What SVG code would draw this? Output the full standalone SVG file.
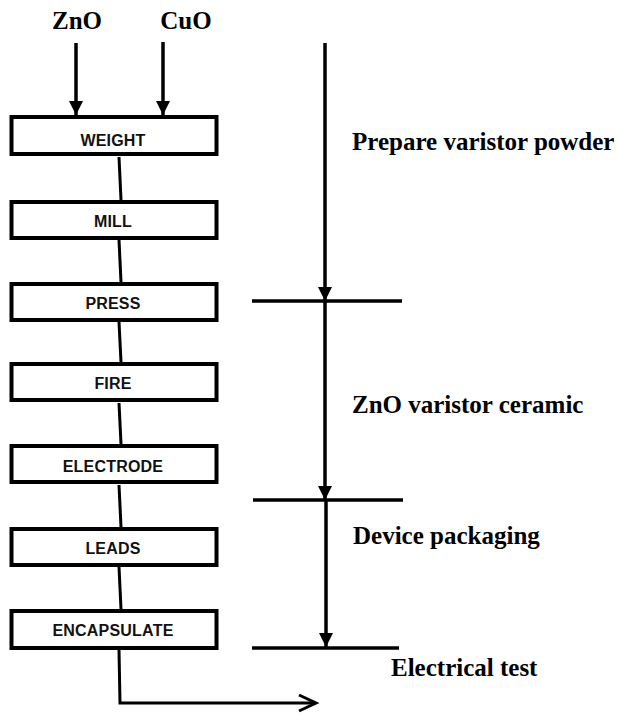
<svg xmlns="http://www.w3.org/2000/svg" width="617" height="715" viewBox="0 0 617 715">
<style>
.box{fill:#fff;stroke:#000;stroke-width:4}
.bt{font-family:"Liberation Sans",Arial,sans-serif;font-weight:bold;font-size:16px;letter-spacing:0.2px;text-anchor:middle;fill:#111}
.lb{font-family:"Liberation Serif","Times New Roman",serif;font-weight:bold;font-size:25px;fill:#000}
.ln{stroke:#000;stroke-width:3.5;fill:none}
.cn{stroke:#000;stroke-width:3;fill:none}
</style>
<defs>
<marker id="ah" markerUnits="userSpaceOnUse" markerWidth="16" markerHeight="16" viewBox="0 0 16 16" refX="15" refY="8" orient="auto">
<path d="M1,1 L15,8 L1,15 Z" fill="#000"/>
</marker>
</defs>
<rect width="617" height="715" fill="#fff"/>
<g id="labels">
<text class="lb" x="77" y="29" text-anchor="middle">ZnO</text>
<text class="lb" x="186" y="29" text-anchor="middle">CuO</text>
<text class="lb" x="352" y="150">Prepare varistor powder</text>
<text class="lb" x="352" y="413">ZnO varistor ceramic</text>
<text class="lb" x="353" y="544">Device packaging</text>
<text class="lb" x="391" y="676">Electrical test</text>
</g>
<g id="connectors">
<line class="ln" x1="76" y1="43" x2="76" y2="115" marker-end="url(#ah)"/>
<line class="ln" x1="163" y1="42" x2="163" y2="115" marker-end="url(#ah)"/>
<line class="cn" x1="119" y1="157" x2="121" y2="200"/>
<line class="cn" x1="119" y1="240" x2="121" y2="282"/>
<line class="cn" x1="119" y1="322" x2="121" y2="362"/>
<line class="cn" x1="119" y1="403" x2="121" y2="444"/>
<line class="cn" x1="119" y1="485" x2="121" y2="527"/>
<line class="cn" x1="119" y1="567" x2="121" y2="609"/>
<polyline class="cn" points="119,650 120,703 316,703"/>
<polyline class="cn" points="299,695 316,703 299,711"/>
<line class="ln" x1="325" y1="43" x2="325" y2="301" marker-end="url(#ah)"/>
<line class="ln" x1="252" y1="301" x2="402" y2="301"/>
<line class="ln" x1="325" y1="301" x2="325" y2="500" marker-end="url(#ah)"/>
<line class="ln" x1="253" y1="500" x2="403" y2="500"/>
<line class="ln" x1="326" y1="500" x2="326" y2="647" marker-end="url(#ah)"/>
<line class="ln" x1="252" y1="648" x2="399" y2="648"/>
</g>
<g id="n-weight"><rect class="box" x="11.5" y="117" width="205" height="37"/><text class="bt" x="113" y="146">WEIGHT</text></g>
<g id="n-mill"><rect class="box" x="11.5" y="202" width="205" height="36"/><text class="bt" x="113" y="227">MILL</text></g>
<g id="n-press"><rect class="box" x="11.5" y="284" width="205" height="36"/><text class="bt" x="113" y="309">PRESS</text></g>
<g id="n-fire"><rect class="box" x="11.5" y="364" width="205" height="36"/><text class="bt" x="113" y="389">FIRE</text></g>
<g id="n-electrode"><rect class="box" x="11.5" y="446" width="205" height="36"/><text class="bt" x="113" y="472">ELECTRODE</text></g>
<g id="n-leads"><rect class="box" x="11.5" y="529" width="205" height="36"/><text class="bt" x="113" y="554">LEADS</text></g>
<g id="n-encapsulate"><rect class="box" x="11.5" y="611" width="205" height="37"/><text class="bt" x="113" y="636">ENCAPSULATE</text></g>
</svg>
